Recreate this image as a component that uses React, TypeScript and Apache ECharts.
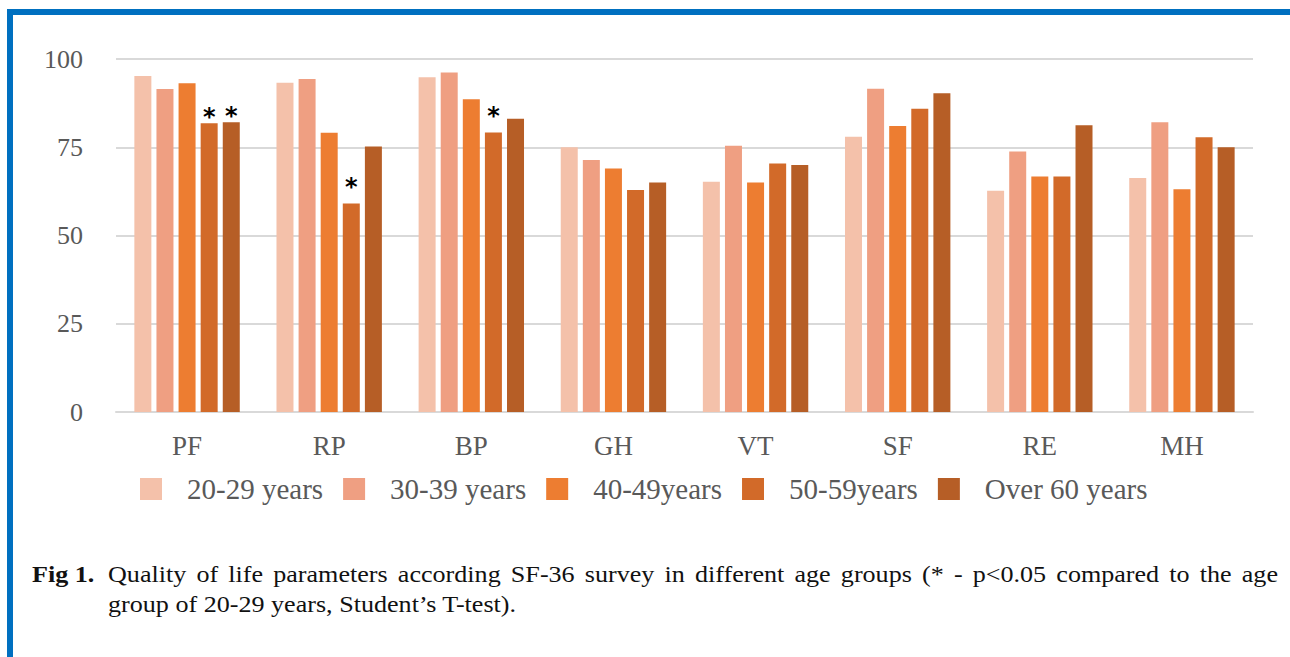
import React, { useEffect, useRef } from "react";
import * as echarts from "echarts";

const categories = ["PF", "RP", "BP", "GH", "VT", "SF", "RE", "MH"];
const seriesNames = ["20-29 years", "30-39 years", "40-49years", "50-59years", "Over 60 years"];
const seriesColors = ["#F4C1AA", "#EF9F82", "#ED7D31", "#D26A29", "#B65E26"];

const v2029 = [95.2, 93.3, 94.8, 75.0, 65.2, 78.0, 62.7, 66.3];
const v3039 = [91.5, 94.3, 96.2, 71.4, 75.4, 91.6, 73.8, 82.1];
const v4049 = [93.1, 79.1, 88.6, 69.0, 65.0, 81.0, 66.7, 63.1];
const v5059 = [81.8, 59.1, 79.2, 62.9, 70.4, 85.9, 66.7, 77.8];
const vOver60 = [82.1, 75.2, 83.1, 65.0, 70.0, 90.3, 81.2, 75.0];

// significance markers (* p<0.05 vs 20-29 years)
const sig2029 = [false, false, false, false, false, false, false, false];
const sig3039 = [false, false, false, false, false, false, false, false];
const sig4049 = [false, false, false, false, false, false, false, false];
const sig5059 = [true, true, true, false, false, false, false, false];
const sigOver60 = [true, false, false, false, false, false, false, false];

const yMin = 0;
const yMax = 100;
const yInterval = 25;

const captionBold = "Fig 1.";
const captionLine1 =
  "Quality of life parameters according SF-36 survey in different age groups (* - p<0.05 compared to the age";
const captionLine2 = "group of 20-29 years, Student\u2019s T-test).";

const allValues = [v2029, v3039, v4049, v5059, vOver60];
const allSig = [sig2029, sig3039, sig4049, sig5059, sigOver60];

// star label distance (style) per category, px above the bar
const starDistanceByCategory: Record<string, number> = { PF: -6, RP: 4, BP: 4 };

const SERIF = "'Liberation Serif', 'Times New Roman', serif";

export default function App() {
  const ref = useRef<HTMLDivElement>(null);

  useEffect(() => {
    if (!ref.current) return;
    const chart = echarts.init(ref.current, null, { renderer: "svg" });

    const capFontSize = 22.5;
    const sx = 1.16;
    const capFont = `${capFontSize}px 'Liberation Serif'`;
    const canvas = document.createElement("canvas");
    const ctx = canvas.getContext("2d")!;
    ctx.font = capFont;
    const words = captionLine1.split(" ");
    const widths = words.map((w) => ctx.measureText(w).width * sx);
    const lineLeft = 108;
    const lineRight = 1278;
    const total = widths.reduce((a, b) => a + b, 0);
    const gap = (lineRight - lineLeft - total) / (words.length - 1);
    const line1Y = 574.5;
    const line2Y = 604.5;

    const captionEls: any[] = [];
    let cx = lineLeft;
    words.forEach((w, i) => {
      captionEls.push({
        type: "text",
        x: cx,
        y: line1Y,
        scaleX: sx,
        style: {
          text: w,
          font: capFont,
          fill: "#111",
          align: "left",
          verticalAlign: "middle",
        },
      });
      cx += widths[i] + gap;
    });
    captionEls.push({
      type: "text",
      x: 32,
      y: line1Y,
      scaleX: sx,
      style: {
        text: captionBold,
        font: `bold ${capFontSize}px 'Liberation Serif'`,
        fill: "#111",
        align: "left",
        verticalAlign: "middle",
      },
    });
    captionEls.push({
      type: "text",
      x: lineLeft,
      y: line2Y,
      scaleX: sx,
      style: {
        text: captionLine2,
        font: capFont,
        fill: "#111",
        align: "left",
        verticalAlign: "middle",
      },
    });

    const series = seriesNames.map((name, si) => ({
      name,
      type: "bar",
      barWidth: 17,
      barGap: "30%",
      itemStyle: { color: seriesColors[si] },
      label: {
        show: false,
        position: "top",
        distance: -6,
        formatter: "*",
        fontFamily: "'DejaVu Sans', sans-serif",
        fontWeight: "bold",
        fontSize: 24,
        color: "#000",
      },
      data: allValues[si].map((v, ci) => ({
        value: v,
        label: {
          show: allSig[si][ci],
          distance: starDistanceByCategory[categories[ci]] ?? -6,
        },
      })),
    }));

    chart.setOption({
      animation: false,
      backgroundColor: "#ffffff",
      grid: { left: 116, right: 37, top: 59, bottom: 245, containLabel: false },
      legend: {
        data: seriesNames,
        icon: "rect",
        itemWidth: 22,
        itemHeight: 22,
        itemGap: 20,
        left: 140,
        top: 474,
        padding: 0,
        textStyle: {
          fontFamily: SERIF,
          fontSize: 29,
          color: "#595959",
          lineHeight: 30,
          padding: [0, 0, 0, 20],
        },
      },
      xAxis: {
        type: "category",
        data: categories,
        axisLine: { show: true, lineStyle: { color: "#D9D9D9", width: 2 } },
        axisTick: { show: false },
        axisLabel: {
          fontFamily: SERIF,
          fontSize: 27,
          color: "#595959",
          margin: 20,
        },
      },
      yAxis: {
        type: "value",
        min: yMin,
        max: yMax,
        interval: yInterval,
        axisLine: { show: false },
        axisTick: { show: false },
        splitLine: { lineStyle: { color: "#D9D9D9", width: 2 } },
        axisLabel: {
          fontFamily: SERIF,
          fontSize: 26,
          color: "#595959",
          margin: 33,
        },
      },
      series,
      graphic: [
        {
          type: "rect",
          shape: { x: 7, y: 9, width: 1290, height: 6 },
          style: { fill: "#0070C0" },
        },
        {
          type: "rect",
          shape: { x: 7, y: 9, width: 6, height: 660 },
          style: { fill: "#0070C0" },
        },
        ...captionEls,
      ],
    });

    return () => {
      chart.dispose();
    };
  }, []);

  return (
    <div
      ref={ref}
      style={{
        position: "fixed",
        left: 0,
        top: 0,
        width: 1290,
        height: 657,
        background: "#fff",
      }}
    />
  );
}
